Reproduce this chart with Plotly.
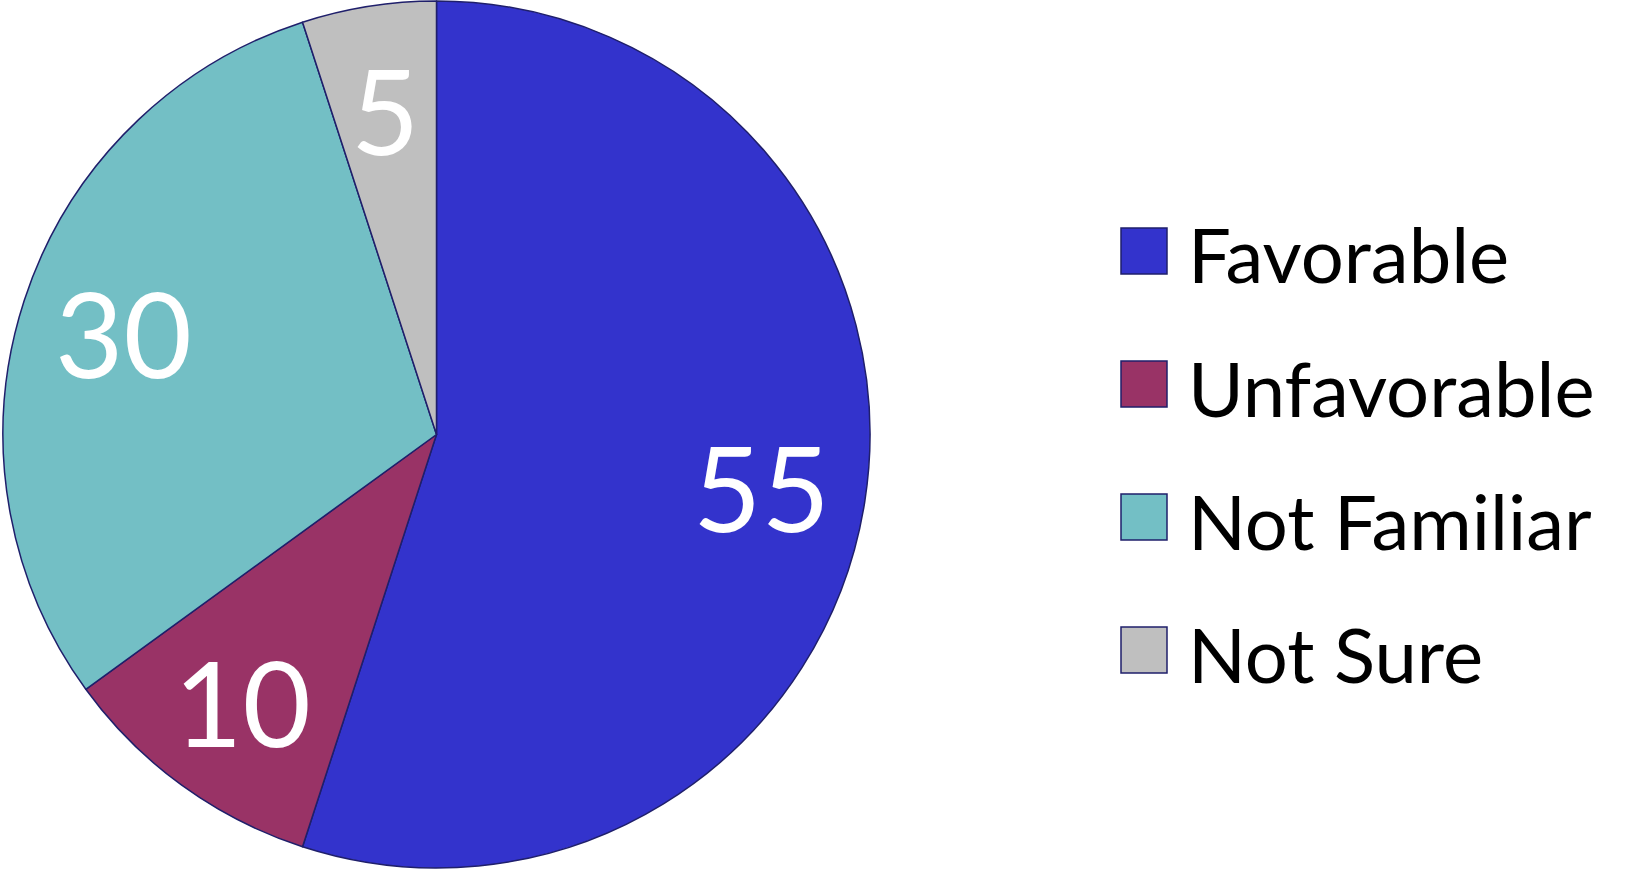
import math
import plotly.graph_objects as go

categories = ["Favorable", "Unfavorable", "Not Familiar", "Not Sure"]
values = [55, 10, 30, 5]
colors = ["#3333CC", "#993366", "#73BFC5", "#BFBFBF"]
outline = "#1F1F6B"

W, H = 1625, 869
dom_x = [3 / W, 870 / W]
dom_y = [0, 1]

fig = go.Figure(go.Pie(
    labels=categories,
    values=values,
    sort=False,
    direction="clockwise",
    rotation=0,
    marker=dict(colors=colors, line=dict(color=outline, width=1.5)),
    textinfo="none",
    hoverinfo="label+value",
    showlegend=False,
    domain=dict(x=dom_x, y=dom_y),
))

annotations = []
shapes = []

# value labels placed inside each slice along its mid-angle
cx = (dom_x[0] + dom_x[1]) / 2 * W
cy_pie = (1 - (dom_y[0] + dom_y[1]) / 2) * H
R = min((dom_x[1] - dom_x[0]) * W, (dom_y[1] - dom_y[0]) * H) / 2
total = sum(values)
cum = 0
for v in values:
    mid = (cum + v / 2) / total * 2 * math.pi
    cum += v
    rf = 0.76
    px = cx + rf * R * math.sin(mid)
    py = cy_pie - rf * R * math.cos(mid)
    annotations.append(dict(
        xref="paper", yref="paper", x=px / W, y=1 - py / H,
        xanchor="center", yanchor="middle", text=str(v), showarrow=False,
        font=dict(family="Lato", size=118, color="white"),
    ))

# custom legend with large swatches
row0, step = 251, 133
sw = 46
for i, (cat, col) in enumerate(zip(categories, colors)):
    cy = row0 + i * step
    shapes.append(dict(
        type="rect", xref="paper", yref="paper",
        x0=1121 / W, x1=(1121 + sw) / W,
        y0=1 - (cy - sw / 2) / H, y1=1 - (cy + sw / 2) / H,
        fillcolor=col, line=dict(color=outline, width=1.5),
    ))
    annotations.append(dict(
        xref="paper", yref="paper", x=1186 / W, y=1 - (cy + 3) / H,
        xanchor="left", yanchor="middle", text=cat, showarrow=False,
        font=dict(family="Lato", size=76, color="black"),
    ))

fig.update_layout(
    width=W, height=H,
    margin=dict(l=0, r=0, t=0, b=0),
    paper_bgcolor="white",
    plot_bgcolor="white",
    shapes=shapes,
    annotations=annotations,
)

fig.write_html("out.html", config={"displayModeBar": False},
               post_script="document.body.style.margin='0';")
